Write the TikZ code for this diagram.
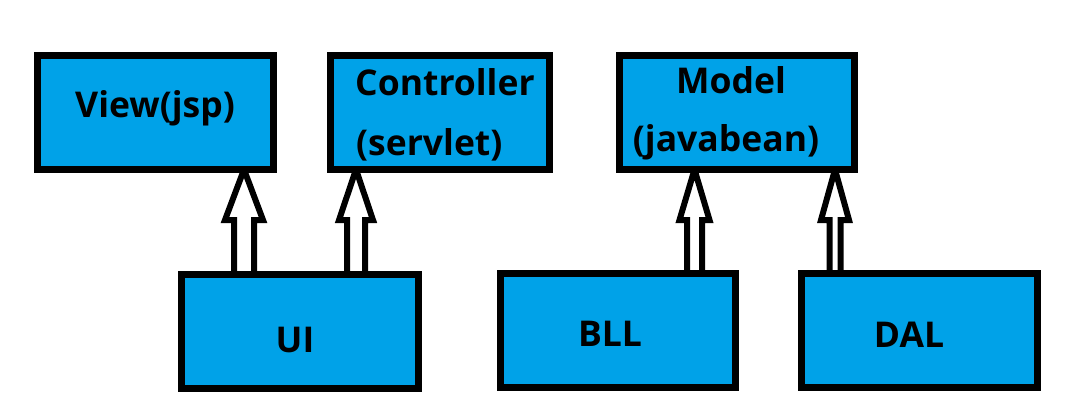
\documentclass[tikz,border=0pt]{standalone}
\usepackage{fontspec}
\setmainfont{Open Sans}[BoldFont={Open Sans Bold}]
\usetikzlibrary{calc}
\definecolor{boxblue}{HTML}{00A2E8}
\pgfdeclarelayer{back}
\pgfdeclarelayer{bg}
\pgfsetlayers{back,bg,main}
\tikzset{
  box/.style={draw=black, line width=7pt, fill=boxblue, rectangle, inner sep=0pt, outer sep=0pt, minimum height=114pt},
  lbl/.style={font=\bfseries\fontsize{35.5}{35.5}\selectfont, inner sep=0pt, text=black},
  hollow/.style={draw=black, line width=6pt, fill=white, line join=miter}
}
% #1 x, #2 lower node, #3 upper node, #4 shaft half width, #5 head half width
\newcommand\hollowup[5]{%
  \draw[hollow] let \p1=(#3.south), \p2=(#2.north) in
    ({#1pt-#4pt},\y2) -- ({#1pt-#4pt},{\y1-50.5pt}) -- ({#1pt-#5pt},{\y1-50.5pt})
    -- ({#1pt},\y1) -- ({#1pt+#5pt},{\y1-50.5pt}) -- ({#1pt+#4pt},{\y1-50.5pt})
    -- ({#1pt+#4pt},\y2) -- cycle;}
\begin{document}
\begin{tikzpicture}[x=1pt,y=-1pt]
\begin{pgfonlayer}{back}
\fill[white] (0,0) rectangle (1073,415);
\end{pgfonlayer}
\useasboundingbox (0,0) rectangle (1073,415);
% boxes
\node[box, minimum width=236pt] (view)  at (155.5,112.5) {};
\node[box, minimum width=219pt] (ctrl)  at (440,112.5) {};
\node[box, minimum width=235pt] (model) at (737,112.5) {};
\node[box, minimum width=237pt] (ui)    at (300,331.5) {};
\node[box, minimum width=235pt] (bll)   at (618,330.5) {};
\node[box, minimum width=236pt] (dal)   at (919.5,330.5) {};
% labels
\node[lbl, anchor=base] (viewT) at (155,117) {View(jsp)};
\node[lbl, anchor=base west] (ctrlT1) at (355,95) {Controller};
\node[lbl, anchor=base west] (ctrlT2) at (356,155) {(servlet)};
\node[lbl, anchor=base] (modelT1) at (731,93) {Model};
\node[lbl, anchor=base] (modelT2) at (726,151) {(javabean)};
\node[lbl, anchor=base] (uiT) at (295,352) {UI};
\node[lbl, anchor=base] (bllT) at (610,346) {BLL};
\node[lbl, anchor=base] (dalT) at (909,347) {DAL};
% arrows
\begin{pgfonlayer}{bg}
\hollowup{244}{ui}{view}{10}{19}
\hollowup{356}{ui}{ctrl}{9}{17}
\hollowup{694.5}{bll}{model}{7.5}{15}
\hollowup{835}{dal}{model}{5.5}{14}
\end{pgfonlayer}
\end{tikzpicture}
\end{document}
